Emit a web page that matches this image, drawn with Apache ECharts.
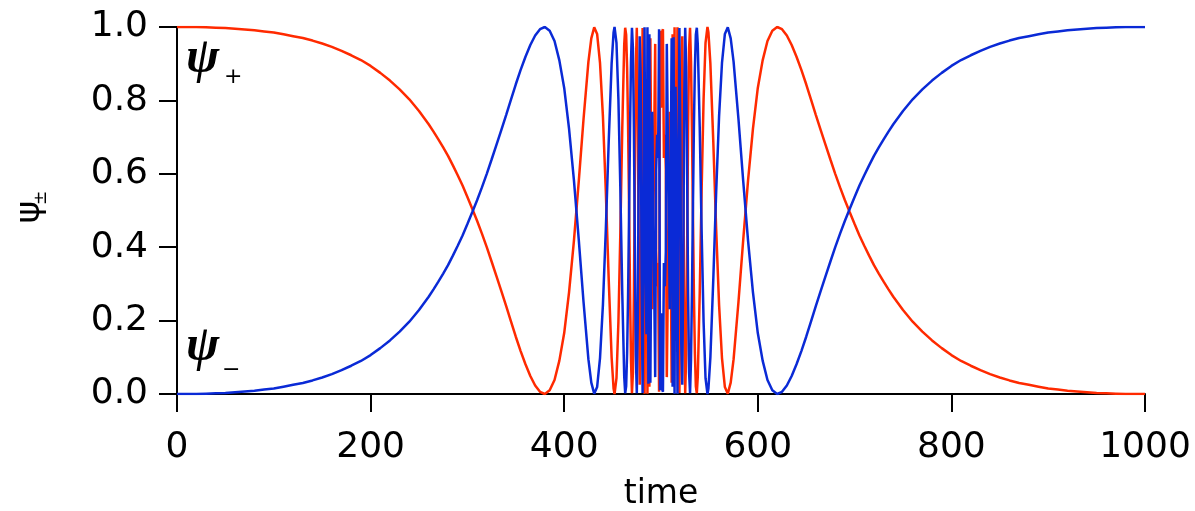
<!DOCTYPE html>
<html>
<head>
<meta charset="utf-8">
<script src="https://cdn.jsdelivr.net/npm/echarts@6/dist/echarts.min.js"></script>
<style>
html,body{margin:0;padding:0;background:#fff;}
#chart{width:1195px;height:511px;}
</style>
</head>
<body>
<div id="chart"></div>
<script>
// time samples
const time = [
  0,10,20,30,40,50,60,70,80,90,100,110,120,130,140,150,160,170,180,190,200,210,220,230,240,250,260,
  265,270,275,280,285,290,295,300,305,310,315,320,325,330,335,340,345,350,355,360,365,370,375,380,385,390,395,400,405,410,415,420,425,
  428,431,434,437,440,443,446,449,
  451,452,454,456,458,460,462,
  463,464,465,466,467,468,469,470,471,472,473,474,475,476,477,478,479,480,481,482,483,484,485,486,487,488,489,490,491,492,493,494,495,496,497,498,499,500,
  501,502,503,504,505,506,507,508,509,510,511,512,513,514,515,516,517,518,519,520,521,522,523,524,525,526,527,528,529,530,531,532,533,534,535,536,537,538,
  540,542,544,546,548,
  549,551,554,557,560,563,566,569,572,
  575,580,585,590,595,600,605,610,615,620,625,630,635,640,645,650,655,660,665,670,675,680,685,690,695,700,705,710,715,720,725,730,735,740,
  750,760,770,780,790,800,810,820,830,840,850,860,870,880,890,900,910,920,930,940,950,960,970,980,990,1000
];
// psi+ (red)
const psiPlus = [
  1.000,1.000,1.000,0.999,0.998,0.997,0.995,0.993,0.991,0.988,0.985,0.980,0.975,0.970,0.963,0.955,0.946,0.935,0.923,0.910,0.894,0.875,0.854,0.830,0.803,0.771,0.735,
  0.715,0.694,0.672,0.649,0.623,0.596,0.568,0.537,0.505,0.472,0.437,0.400,0.361,0.321,0.281,0.240,0.198,0.156,0.117,0.081,0.049,0.023,0.006,0.000,0.010,0.038,0.091,0.166,0.277,0.416,0.578,0.750,0.905,
  0.969,0.999,0.981,0.902,0.757,0.551,0.311,0.099,
  0.015,0.000,0.043,0.196,0.440,0.727,0.952,
  0.998,0.979,0.888,0.729,0.512,0.283,0.093,0.002,0.059,0.275,0.596,0.893,0.998,0.799,0.370,0.025,0.136,0.682,0.997,0.499,0.001,0.659,0.837,0.001,0.972,0.020,0.969,0.587,0.231,0.537,0.715,0.954,0.389,0.294,0.357,0.006,0.990,0.780,
  0.985,0.994,0.643,0.706,0.611,0.046,0.285,0.463,0.769,0.413,0.031,0.980,0.028,0.999,0.163,0.341,0.999,0.501,0.003,0.318,0.864,0.975,0.630,0.201,0.002,0.107,0.404,0.725,0.941,0.998,0.907,0.717,0.488,0.271,0.112,0.021,0.002,0.048,
  0.273,0.560,0.804,0.957,1.000,
  0.985,0.901,0.689,0.449,0.243,0.098,0.019,0.001,0.031,
  0.095,0.250,0.422,0.584,0.723,0.834,0.909,0.962,0.990,1.000,0.994,0.977,0.951,0.919,0.883,0.844,0.802,0.760,0.719,0.679,0.639,0.600,0.563,0.528,0.495,0.463,0.432,0.404,0.377,0.351,0.328,0.306,0.285,0.265,
  0.229,0.197,0.170,0.146,0.125,0.106,0.090,0.077,0.065,0.054,0.045,0.037,0.030,0.025,0.020,0.015,0.012,0.009,0.007,0.005,0.003,0.002,0.001,0.000,0.000,0.000
];
// psi- (blue)
const psiMinus = [
  0.000,0.000,0.000,0.001,0.002,0.003,0.005,0.007,0.009,0.012,0.015,0.020,0.025,0.030,0.037,0.045,0.054,0.065,0.077,0.090,0.106,0.125,0.146,0.170,0.197,0.229,0.265,
  0.285,0.306,0.328,0.351,0.377,0.404,0.432,0.463,0.495,0.528,0.563,0.600,0.639,0.679,0.719,0.760,0.802,0.844,0.883,0.919,0.951,0.977,0.994,1.000,0.990,0.962,0.909,0.834,0.723,0.584,0.422,0.250,0.095,
  0.031,0.001,0.019,0.098,0.243,0.449,0.689,0.901,
  0.985,1.000,0.957,0.804,0.560,0.273,0.048,
  0.002,0.021,0.112,0.271,0.488,0.717,0.907,0.998,0.941,0.725,0.404,0.107,0.002,0.201,0.630,0.975,0.864,0.318,0.003,0.501,0.999,0.341,0.163,0.999,0.028,0.980,0.031,0.413,0.769,0.463,0.285,0.046,0.611,0.706,0.643,0.994,0.010,0.220,
  0.015,0.006,0.357,0.294,0.389,0.954,0.715,0.537,0.231,0.587,0.969,0.020,0.972,0.001,0.837,0.659,0.001,0.499,0.997,0.682,0.136,0.025,0.370,0.799,0.998,0.893,0.596,0.275,0.059,0.002,0.093,0.283,0.512,0.729,0.888,0.979,0.998,0.952,
  0.727,0.440,0.196,0.043,0.000,
  0.015,0.099,0.311,0.551,0.757,0.902,0.981,0.999,0.969,
  0.905,0.750,0.578,0.416,0.277,0.166,0.091,0.038,0.010,0.000,0.006,0.023,0.049,0.081,0.117,0.156,0.198,0.240,0.281,0.321,0.361,0.400,0.437,0.472,0.505,0.537,0.568,0.596,0.623,0.649,0.672,0.694,0.715,0.735,
  0.771,0.803,0.830,0.854,0.875,0.894,0.910,0.923,0.935,0.946,0.955,0.963,0.970,0.975,0.980,0.985,0.988,0.991,0.993,0.995,0.997,0.998,0.999,1.000,1.000,1.000
];
const xTicks = [0, 200, 400, 600, 800, 1000];
const yTicks = [0.0, 0.2, 0.4, 0.6, 0.8, 1.0];
const xTitle = 'time';
const yTitle = ['ψ', '±'];
const labelPlus = ['ψ', '+'];
const labelMinus = ['ψ', '−'];

const RED = '#ff2a00';
const BLUE = '#0a2ad6';
const FONT = 'DejaVu Sans';

const chart = echarts.init(document.getElementById('chart'), null, {renderer: 'canvas'});
const axisCommon = {
  axisLine: {show: true, lineStyle: {color: '#000', width: 2}},
  axisTick: {show: true, inside: false, length: 18, lineStyle: {color: '#000', width: 2}},
  splitLine: {show: false},
  axisLabel: {color: '#000', fontFamily: FONT, fontSize: 36}
};
chart.setOption({
  animation: false,
  backgroundColor: '#fff',
  grid: {left: 177, right: 50, top: 27, bottom: 117, containLabel: false, outerBoundsMode: 'none'},
  xAxis: Object.assign({}, axisCommon, {
    type: 'value', min: xTicks[0], max: xTicks[xTicks.length - 1], interval: xTicks[1] - xTicks[0],
    offset: 2,
    name: xTitle, nameLocation: 'middle', nameGap: 82,
    nameTextStyle: {color: '#000', fontFamily: FONT, fontSize: 33},
    axisLabel: Object.assign({}, axisCommon.axisLabel, {margin: 34, formatter: v => String(v)})
  }),
  yAxis: Object.assign({}, axisCommon, {
    type: 'value', min: yTicks[0], max: yTicks[yTicks.length - 1], interval: 0.2,
    offset: 4,
    axisLabel: Object.assign({}, axisCommon.axisLabel, {margin: 25, formatter: v => v.toFixed(1)})
  }),
  series: [
    {type: 'line', name: 'psi+', data: time.map((t, i) => [t, psiPlus[i]]), showSymbol: false, symbol: 'none',
     lineStyle: {color: RED, width: 2.5}, itemStyle: {color: RED}, z: 2},
    {type: 'line', name: 'psi-', data: time.map((t, i) => [t, psiMinus[i]]), showSymbol: false, symbol: 'none',
     lineStyle: {color: BLUE, width: 2.5}, itemStyle: {color: BLUE}, z: 3}
  ],
  graphic: [
    {type: 'text', left: 186, top: 34, style: {text: labelPlus[0], fontFamily: 'Liberation Serif', fontStyle: 'italic', fontWeight: 'bold', fontSize: 50, fill: '#000'}},
    {type: 'text', left: 224, top: 66, style: {text: labelPlus[1], fontFamily: FONT, fontSize: 22, fill: '#000'}},
    {type: 'text', left: 186, top: 322, style: {text: labelMinus[0], fontFamily: 'Liberation Serif', fontStyle: 'italic', fontWeight: 'bold', fontSize: 50, fill: '#000'}},
    {type: 'text', left: 222, top: 359, style: {text: labelMinus[1], fontFamily: FONT, fontSize: 22, fill: '#000'}},
    {type: 'text', x: 30, y: 212, rotation: Math.PI / 2,
     style: {text: yTitle[0], fontFamily: FONT, fontSize: 34, fill: '#000', align: 'center', verticalAlign: 'middle'}},
    {type: 'text', x: 42, y: 198, rotation: Math.PI / 2,
     style: {text: yTitle[1], fontFamily: FONT, fontSize: 17, fill: '#000', align: 'center', verticalAlign: 'middle'}}
  ]
});
</script>
</body>
</html>
